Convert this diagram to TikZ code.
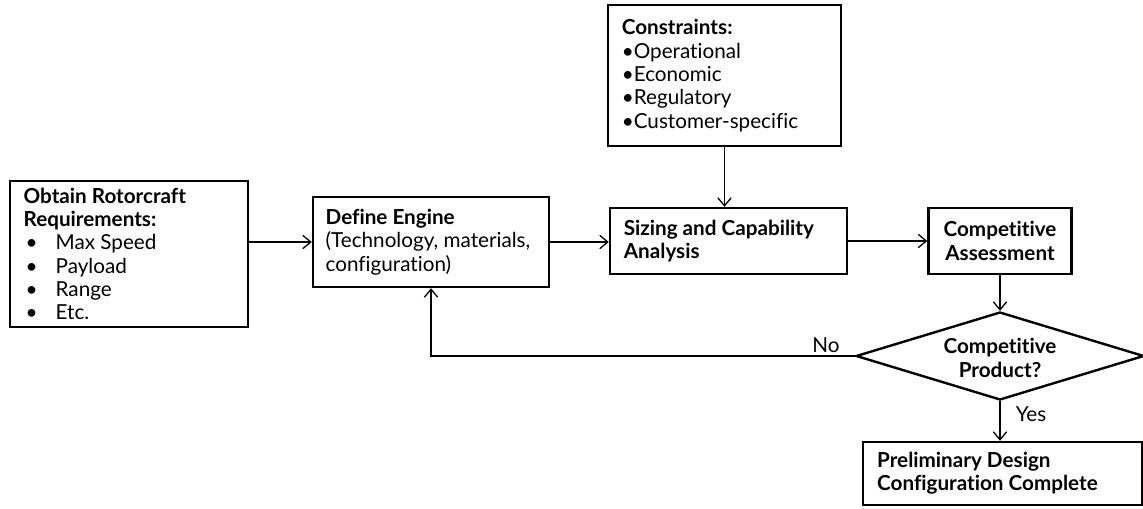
\documentclass[tikz,border=0pt]{standalone}
\usepackage{fontspec}
\setmainfont{Lato}[Ligatures={NoCommon}]
\usetikzlibrary{arrows.meta,shapes.geometric}
\begin{document}
\begin{tikzpicture}[x=0.75pt,y=-0.75pt,
  every node/.style={font=\fontsize{15.5}{17.5}\selectfont},
  box/.style={draw, line width=1.8pt, rectangle, align=flush left, inner xsep=0pt, inner ysep=0pt},
  cbox/.style={draw, line width=1.8pt, rectangle, align=center, inner sep=0pt},
  arr/.style={line width=1pt, -{Straight Barb[length=6pt,width=10pt,line width=1pt]}}
]
\useasboundingbox (0,0) rectangle (1143,508);

% process boxes
\node[box, minimum width=178.5pt, minimum height=109.5pt, text width=158pt] (req) at (129,254)
  {\textbf{Obtain Rotorcraft}\\\textbf{Requirements:}\\
   \hspace*{1.5pt}\makebox[22.5pt][l]{•}Max Speed\\
   \hspace*{1.5pt}\makebox[22.5pt][l]{•}Payload\\
   \hspace*{1.5pt}\makebox[22.5pt][l]{•}Range\\
   \hspace*{1.5pt}\makebox[22.5pt][l]{•}Etc.};
\node[box, minimum width=177pt, minimum height=67.5pt, text width=158pt] (def) at (431,242)
  {\textbf{Define Engine}\\(Technology, materials,\\configuration)};
\node[box, minimum width=174.75pt, minimum height=105.75pt, text width=154pt] (cons) at (724.5,75.5)
  {\textbf{Constraints:}\\•Operational\\•Economic\\•Regulatory\\•Customer-specific};
\node[box, minimum width=177.75pt, minimum height=49.5pt, text width=157pt] (siz) at (728.5,241)
  {\textbf{Sizing and Capability}\\\textbf{Analysis}};
\node[cbox, minimum width=107.25pt, minimum height=49.5pt] (ca) at (1000,241)
  {\textbf{Competitive}\\\textbf{Assessment}};

% decision
\node[diamond, draw, line width=1.8pt, inner sep=0pt, minimum width=216pt, minimum height=66pt] (dec) at (1000,356) {};
\node[align=center, inner sep=0pt] (dect) at (1000,358) {\textbf{Competitive}\\\textbf{Product?}};

\node[box, minimum width=209.25pt, minimum height=47.25pt, text width=188pt] (fin) at (1002.5,473.5)
  {\textbf{Preliminary Design}\\\textbf{Configuration Complete}};

% connectors
\draw[arr] (req.east |- def.west) -- (def.west);
\draw[arr] (def.east) -- (def.east -| siz.west);
\draw[arr] (cons.south) -- (cons.south |- siz.north);
\draw[arr] (siz.east) -- (siz.east -| ca.west);
\draw[arr] (ca.south) -- (dec.north);
\draw[arr] (dec.south) -- (dec.south |- fin.north);
\draw[arr] (dec.west) -| (def.south);

% branch labels
\node (no) at (826,345) {No};
\node (yes) at (1031,414) {Yes};
\end{tikzpicture}
\end{document}
